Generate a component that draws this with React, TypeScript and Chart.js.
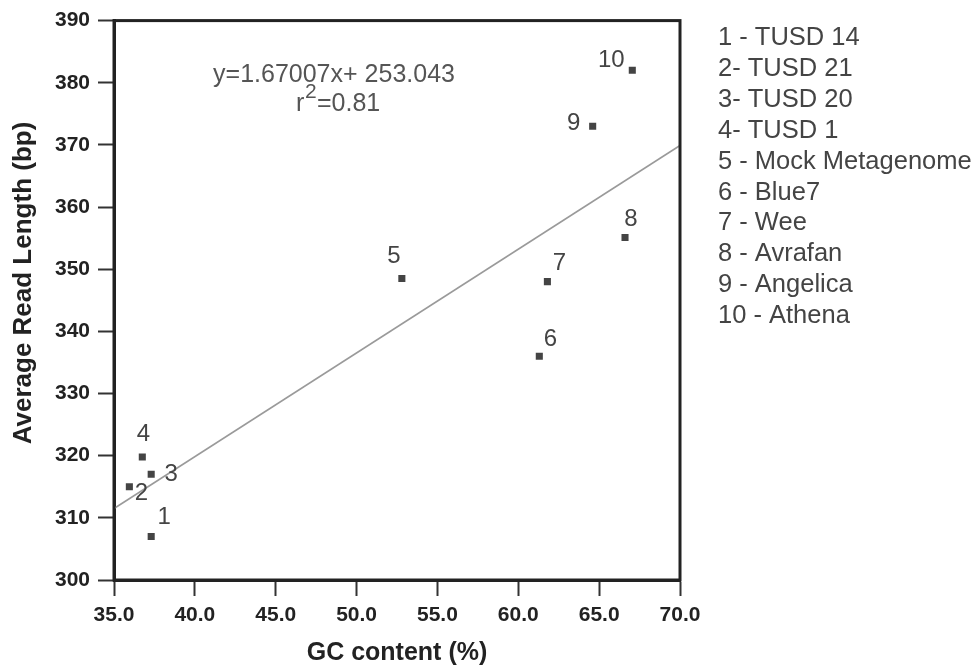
import React, { useEffect, useRef } from "react";
import { Chart, registerables } from "chart.js";

Chart.register(...registerables);

// ---- data ----
const pointIds = ["1", "2", "3", "4", "5", "6", "7", "8", "9", "10"];
const gcContent = [37.3, 35.95, 37.3, 36.75, 52.8, 61.3, 61.8, 66.6, 64.6, 67.05];
const readLength = [307.0, 315.0, 317.0, 319.8, 348.5, 336.0, 348.0, 355.1, 373.0, 382.0];
const legendLabels = [
  "1 - TUSD 14",
  "2- TUSD 21",
  "3- TUSD 20",
  "4- TUSD 1",
  "5 - Mock Metagenome",
  "6 - Blue7",
  "7 - Wee",
  "8 - Avrafan",
  "9 - Angelica",
  "10 - Athena",
];
const trendX = [35.0, 70.0];
const trendY = [311.5, 369.9];
const equationText = "y=1.67007x+ 253.043";
const r2Value = "=0.81";
const xTitle = "GC content (%)";
const yTitle = "Average Read Length (bp)";

// ---- styles ----
const FONT = "'Liberation Sans', Arial, sans-serif";
const labelOffsets = [
  [13, -19], [12, 7], [20, 0], [1, -23], [-8, -22],
  [11, -17], [12, -18], [6, -18], [-19, -3], [-21, -10],
];

const annotationPlugin = {
  id: "annotations",
  afterDraw(chart: any) {
    const ctx = chart.ctx;
    const area = chart.chartArea;
    const xs = chart.scales.x;
    const ys = chart.scales.y;
    ctx.save();
    // frame
    ctx.strokeStyle = "#222";
    ctx.lineWidth = 3;
    ctx.strokeRect(area.left, area.top, area.right - area.left, area.bottom - area.top);

    // point labels
    ctx.fillStyle = "#444";
    ctx.font = `24px ${FONT}`;
    ctx.textAlign = "center";
    ctx.textBaseline = "middle";
    pointIds.forEach((id, i) => {
      const px = xs.getPixelForValue(gcContent[i]);
      const py = ys.getPixelForValue(readLength[i]);
      ctx.fillText(id, px + labelOffsets[i][0], py + labelOffsets[i][1]);
    });

    // equation
    ctx.fillStyle = "#555";
    ctx.font = `25px ${FONT}`;
    ctx.textAlign = "center";
    ctx.textBaseline = "alphabetic";
    ctx.fillText(equationText, 334, 82);
    ctx.textAlign = "left";
    ctx.fillText("r", 296, 111);
    ctx.font = `21px ${FONT}`;
    ctx.fillText("2", 305, 98);
    ctx.font = `25px ${FONT}`;
    ctx.fillText(r2Value, 317, 111);

    // legend
    ctx.fillStyle = "#444";
    ctx.font = `25.5px ${FONT}`;
    ctx.textAlign = "left";
    ctx.textBaseline = "alphabetic";
    legendLabels.forEach((t, i) => {
      ctx.fillText(t, 718, 45 + i * 30.9);
    });

    // y title
    ctx.fillStyle = "#222";
    ctx.font = `bold 26px ${FONT}`;
    ctx.translate(24, 283);
    ctx.rotate(-Math.PI / 2);
    ctx.textAlign = "center";
    ctx.textBaseline = "middle";
    ctx.fillText(yTitle, 0, 0);
    ctx.restore();
  },
};

export default function App() {
  const canvasRef = useRef<HTMLCanvasElement | null>(null);

  useEffect(() => {
    document.body.style.margin = "0";
    const canvas = canvasRef.current;
    if (!canvas) return;
    const chart = new Chart(canvas, {
      type: "scatter",
      data: {
        datasets: [
          {
            type: "line",
            data: trendX.map((x, i) => ({ x, y: trendY[i] })),
            borderColor: "#9a9a9a",
            borderWidth: 1.6,
            pointRadius: 0,
            fill: false,
          } as any,
          {
            type: "scatter",
            data: gcContent.map((x, i) => ({ x, y: readLength[i] })),
            pointStyle: "rect",
            pointRadius: 5,
            borderWidth: 0,
            backgroundColor: "#444",
            borderColor: "#444",
          },
        ],
      },
      options: {
        responsive: false,
        animation: false,
        devicePixelRatio: 1,
        layout: { padding: { top: 18, right: 294, left: 0, bottom: 0 } },
        plugins: {
          legend: { display: false },
          tooltip: { enabled: false },
        },
        scales: {
          x: {
            type: "linear",
            min: 35,
            max: 70,
            afterFit(scale: any) {
              scale.height = 86;
            },
            ticks: {
              stepSize: 5,
              padding: 7,
              color: "#222",
              font: { family: FONT, size: 21, weight: "bold" },
              callback: (v: any) => Number(v).toFixed(1),
            },
            grid: {
              display: true,
              drawOnChartArea: false,
              drawTicks: true,
              tickLength: 16,
              tickWidth: 2,
              tickColor: "#333",
            },
            border: { display: true, color: "#222", width: 3 },
            title: {
              display: true,
              text: xTitle,
              color: "#222",
              padding: 0,
              font: { family: FONT, size: 25, weight: "bold", lineHeight: 1 },
            },
          },
          y: {
            type: "linear",
            min: 300,
            max: 390,
            afterFit(scale: any) {
              scale.width = 114;
            },
            ticks: {
              stepSize: 10,
              padding: 8,
              color: "#222",
              font: { family: FONT, size: 21, weight: "bold" },
            },
            grid: {
              display: true,
              drawOnChartArea: false,
              drawTicks: true,
              tickLength: 16,
              tickWidth: 2,
              tickColor: "#333",
            },
            border: { display: true, color: "#222", width: 3 },
          },
        },
      } as any,
      plugins: [annotationPlugin],
    });
    return () => chart.destroy();
  }, []);

  return (
    <div style={{ width: 974, height: 666 }}>
      <canvas ref={canvasRef} width={974} height={666} />
    </div>
  );
}
